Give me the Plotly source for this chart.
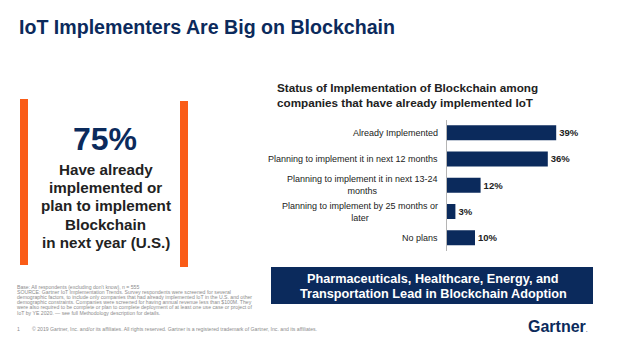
import plotly.graph_objects as go

W, H = 642, 341

# ---- data ----
categories = [
    "Already Implemented",
    "Planning to implement it in next 12 months",
    "Planning to implement it in next 13-24<br>months",
    "Planning to implement by 25 months or<br>later",
    "No plans",
]
values = [39, 36, 12, 3, 10]

title_text = "IoT Implementers Are Big on Blockchain"
big_stat = "75%"
stat_lines = ["Have already", "implemented or", "plan to implement", "Blockchain", "in next year (U.S.)"]
chart_title = "Status of Implementation of Blockchain among<br>companies that have already implemented IoT"
box_lines = ["Pharmaceuticals, Healthcare, Energy, and", "Transportation Lead in Blockchain Adoption"]
foot_lines = [
    "Base: All respondents (excluding don't know), n = 555",
    "SOURCE: Gartner IoT Implementation Trends. Survey respondents were screened for several",
    "demographic factors, to include only companies that had already implemented IoT in the U.S. and other",
    "demographic constraints. Companies were screened for having annual revenue less than $100M. They",
    "were also required to be complete or plan to complete deployment of at least one use case or project of",
    "IoT by YE 2020. \u2014 see full Methodology description for details.",
]
copyright_text = "\u00a9 2019 Gartner, Inc. and/or its affiliates. All rights reserved. Gartner is a registered trademark of Gartner, Inc. and its affiliates."

NAVY = "#0b2a5c"
ORANGE = "#fa5c17"
DARK = "#222222"
FONT = "Liberation Sans, Arial, sans-serif"


def px(x):
    return x / W


def py(y):
    return 1 - y / H


fig = go.Figure()
fig.add_trace(go.Bar(
    x=values,
    y=categories,
    orientation="h",
    marker=dict(color=NAVY, line=dict(width=0)),
    text=[f"{v}%" for v in values],
    textposition="outside",
    textfont=dict(family=FONT, size=9.5, color=DARK, weight="bold"),
    cliponaxis=False,
    hoverinfo="skip",
))

annotations = []
# category labels (centered multi-line, right edge near axis)
for c in categories:
    annotations.append(dict(
        x=px(440), y=c, xref="paper", yref="y", xanchor="right", yanchor="middle",
        text=c, showarrow=False, align="center",
        font=dict(family=FONT, size=9, color=DARK),
    ))

# main title
annotations.append(dict(
    x=px(17), y=py(27), xref="paper", yref="paper", xanchor="left", yanchor="middle",
    text=f"<b>{title_text}</b>", showarrow=False,
    font=dict(family=FONT, size=19.6, color=NAVY),
))
# big stat
annotations.append(dict(
    x=px(105), y=py(139), xref="paper", yref="paper", xanchor="center", yanchor="middle",
    text=f"<b>{big_stat}</b>", showarrow=False,
    font=dict(family=FONT, size=32, color=NAVY),
))
for i, line in enumerate(stat_lines):
    annotations.append(dict(
        x=px(105.5), y=py(169 + i * 18.4), xref="paper", yref="paper", xanchor="center", yanchor="middle",
        text=f"<b>{line}</b>", showarrow=False,
        font=dict(family=FONT, size=15.2, color=DARK),
    ))
# chart title
annotations.append(dict(
    x=px(275), y=py(95), xref="paper", yref="paper", xanchor="left", yanchor="middle",
    text=f"<b>{chart_title}</b>", showarrow=False, align="left",
    font=dict(family=FONT, size=11.7, color=DARK),
))
# box text
for i, line in enumerate(box_lines):
    annotations.append(dict(
        x=px(433), y=py(278.5 + i * 15.5), xref="paper", yref="paper", xanchor="center", yanchor="middle",
        text=f"<b>{line}</b>", showarrow=False,
        font=dict(family=FONT, size=12.7, color="white"),
    ))
# footnotes
for i, line in enumerate(foot_lines):
    annotations.append(dict(
        x=px(15), y=py(287 + i * 5.1), xref="paper", yref="paper", xanchor="left", yanchor="middle",
        text=line, showarrow=False,
        font=dict(family=FONT, size=5.15, color="#8c8c8c"),
    ))
annotations.append(dict(
    x=px(15), y=py(329), xref="paper", yref="paper", xanchor="left", yanchor="middle",
    text="1", showarrow=False, font=dict(family=FONT, size=5.15, color="#8c8c8c"),
))
annotations.append(dict(
    x=px(30), y=py(329), xref="paper", yref="paper", xanchor="left", yanchor="middle",
    text=copyright_text, showarrow=False, font=dict(family=FONT, size=5.15, color="#8c8c8c"),
))
# Gartner logo text
annotations.append(dict(
    x=px(526), y=py(326), xref="paper", yref="paper", xanchor="left", yanchor="middle",
    text="<b>Gartner</b><span style='font-size:7px'>.</span>", showarrow=False,
    font=dict(family=FONT, size=16, color=NAVY),
))

shapes = [
    dict(type="rect", xref="paper", yref="paper", x0=px(20), x1=px(28), y0=py(265), y1=py(99),
         fillcolor=ORANGE, line=dict(width=0), layer="below"),
    dict(type="rect", xref="paper", yref="paper", x0=px(180), x1=px(188), y0=py(267), y1=py(101),
         fillcolor=ORANGE, line=dict(width=0), layer="below"),
    dict(type="rect", xref="paper", yref="paper", x0=px(271), x1=px(593), y0=py(304), y1=py(267),
         fillcolor=NAVY, line=dict(width=0), layer="below"),
]

x0_px, x1_px = 447, 610
px_per_unit = 2.8
fig.update_layout(
    width=W, height=H,
    margin=dict(l=0, r=0, t=0, b=0),
    paper_bgcolor="white", plot_bgcolor="white",
    showlegend=False,
    bargap=0.43,
    xaxis=dict(domain=[px(x0_px), px(x1_px)], range=[0, (x1_px - x0_px) / px_per_unit],
               visible=False, fixedrange=True),
    yaxis=dict(domain=[py(251), py(119.5)], range=[4.5, -0.5], type="category",
               showticklabels=False, showline=True, linecolor="#b5b5b5", linewidth=1,
               showgrid=False, zeroline=False, ticks="", fixedrange=True),
    annotations=annotations,
    shapes=shapes,
    font=dict(family=FONT),
)

fig.write_html("out.html")
